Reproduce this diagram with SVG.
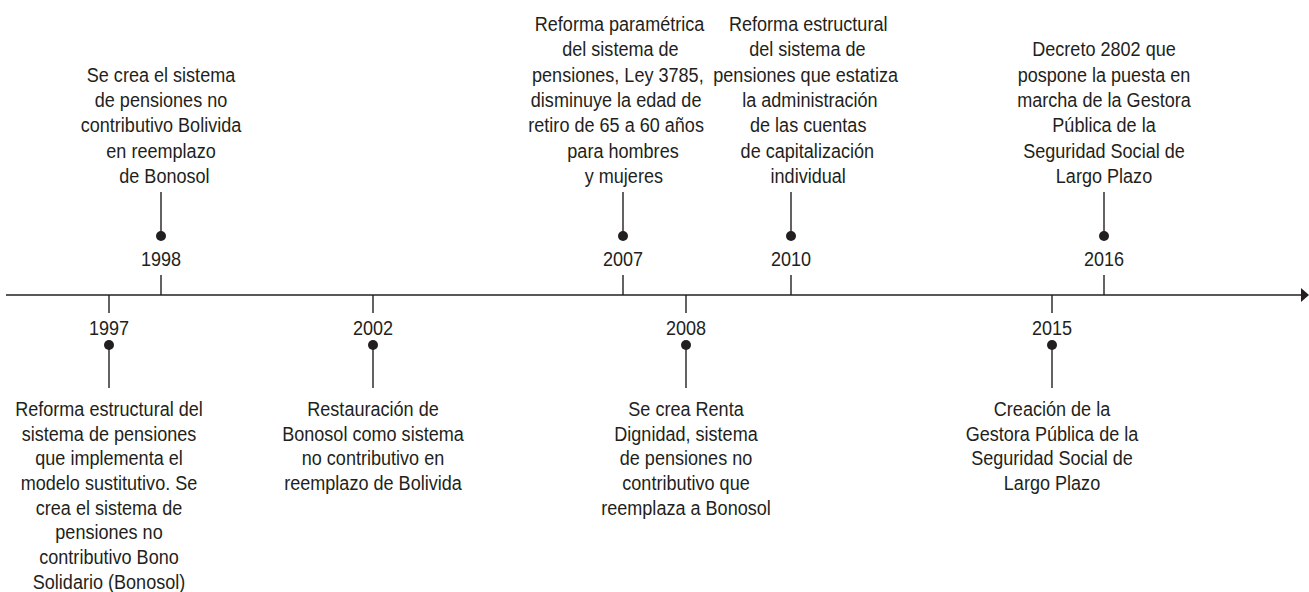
<svg xmlns="http://www.w3.org/2000/svg" width="1309" height="592" viewBox="0 0 1309 592">
<style>
  .t { font-family: "Liberation Sans", Arial, sans-serif; font-size: 21px; fill: #231f20; text-anchor: middle; }
  .ln { stroke: #231f20; stroke-width: 1.4; fill: none; }
  .dot { fill: #231f20; }
</style>
<defs>
  <marker id="arrow" markerUnits="userSpaceOnUse" markerWidth="8" markerHeight="14" viewBox="0 0 8 14" refX="0" refY="7" orient="auto">
    <path d="M0,0 L8,7 L0,14 z" fill="#231f20"/>
  </marker>
</defs>

<g id="connectors">
  <line class="ln" x1="6" y1="295" x2="1301" y2="295" marker-end="url(#arrow)"/>
  <line class="ln" x1="161" y1="275" x2="161" y2="295"/>
  <line class="ln" x1="161" y1="192" x2="161" y2="236"/>
  <line class="ln" x1="623" y1="275" x2="623" y2="295"/>
  <line class="ln" x1="623" y1="192" x2="623" y2="236"/>
  <line class="ln" x1="791" y1="275" x2="791" y2="295"/>
  <line class="ln" x1="791" y1="192" x2="791" y2="236"/>
  <line class="ln" x1="1104" y1="275" x2="1104" y2="295"/>
  <line class="ln" x1="1104" y1="192" x2="1104" y2="236"/>
  <line class="ln" x1="109" y1="295" x2="109" y2="313"/>
  <line class="ln" x1="109" y1="345" x2="109" y2="388"/>
  <line class="ln" x1="373" y1="295" x2="373" y2="313"/>
  <line class="ln" x1="373" y1="345" x2="373" y2="388"/>
  <line class="ln" x1="686" y1="295" x2="686" y2="313"/>
  <line class="ln" x1="686" y1="345" x2="686" y2="388"/>
  <line class="ln" x1="1052" y1="295" x2="1052" y2="313"/>
  <line class="ln" x1="1052" y1="345" x2="1052" y2="388"/>
</g>

<g id="n1997" transform="translate(109,0)">
  <circle class="dot" cx="0" cy="345" r="5"/>
  <g transform="scale(0.86,1)">
    <text class="t" x="0" y="335">1997</text>
    <text class="t" x="0" y="416">Reforma estructural del</text>
    <text class="t" x="0" y="440.7">sistema de pensiones</text>
    <text class="t" x="0" y="465.4">que implementa el</text>
    <text class="t" x="0" y="490.1">modelo sustitutivo. Se</text>
    <text class="t" x="0" y="514.8">crea el sistema de</text>
    <text class="t" x="0" y="539.5">pensiones no</text>
    <text class="t" x="0" y="564.2">contributivo Bono</text>
    <text class="t" x="0" y="588.9">Solidario (Bonosol)</text>
  </g>
</g>

<g id="n1998" transform="translate(161,0)">
  <circle class="dot" cx="0" cy="236" r="5"/>
  <g transform="scale(0.86,1)">
    <text class="t" x="0" y="266.5">1998</text>
    <text class="t" x="0" y="81.8">Se crea el sistema</text>
    <text class="t" x="0" y="107.1">de pensiones no</text>
    <text class="t" x="0" y="132.4">contributivo Bolivida</text>
    <text class="t" x="0" y="157.7">en reemplazo</text>
    <text class="t" x="4" y="183">de Bonosol</text>
  </g>
</g>

<g id="n2002" transform="translate(373,0)">
  <circle class="dot" cx="0" cy="345" r="5"/>
  <g transform="scale(0.86,1)">
    <text class="t" x="0" y="335">2002</text>
    <text class="t" x="0" y="416">Restauración de</text>
    <text class="t" x="0" y="440.7">Bonosol como sistema</text>
    <text class="t" x="0" y="465.4">no contributivo en</text>
    <text class="t" x="0" y="490.1">reemplazo de Bolivida</text>
  </g>
</g>

<g id="n2007" transform="translate(623,0)">
  <circle class="dot" cx="0" cy="236" r="5"/>
  <g transform="scale(0.86,1)">
    <text class="t" x="0" y="266.5">2007</text>
    <text class="t" x="-4" y="31.2">Reforma paramétrica</text>
    <text class="t" x="-3" y="56.5">del sistema de</text>
    <text class="t" x="-6" y="81.8">pensiones, Ley 3785,</text>
    <text class="t" x="-8" y="107.1">disminuye la edad de</text>
    <text class="t" x="-8" y="132.4">retiro de 65 a 60 años</text>
    <text class="t" x="0" y="157.7">para hombres</text>
    <text class="t" x="1" y="183">y mujeres</text>
  </g>
</g>

<g id="n2008" transform="translate(686,0)">
  <circle class="dot" cx="0" cy="345" r="5"/>
  <g transform="scale(0.86,1)">
    <text class="t" x="0" y="335">2008</text>
    <text class="t" x="0" y="416">Se crea Renta</text>
    <text class="t" x="0" y="440.7">Dignidad, sistema</text>
    <text class="t" x="0" y="465.4">de pensiones no</text>
    <text class="t" x="0" y="490.1">contributivo que</text>
    <text class="t" x="0" y="514.8">reemplaza a Bonosol</text>
  </g>
</g>

<g id="n2010" transform="translate(791,0)">
  <circle class="dot" cx="0" cy="236" r="5"/>
  <g transform="scale(0.86,1)">
    <text class="t" x="0" y="266.5">2010</text>
    <text class="t" x="20" y="31.2">Reforma estructural</text>
    <text class="t" x="19" y="56.5">del sistema de</text>
    <text class="t" x="17" y="81.8">pensiones que estatiza</text>
    <text class="t" x="22" y="107.1">la administración</text>
    <text class="t" x="20" y="132.4">de las cuentas</text>
    <text class="t" x="19" y="157.7">de capitalización</text>
    <text class="t" x="20" y="183">individual</text>
  </g>
</g>

<g id="n2015" transform="translate(1052,0)">
  <circle class="dot" cx="0" cy="345" r="5"/>
  <g transform="scale(0.86,1)">
    <text class="t" x="0" y="335">2015</text>
    <text class="t" x="0" y="416">Creación de la</text>
    <text class="t" x="0" y="440.7">Gestora Pública de la</text>
    <text class="t" x="0" y="465.4">Seguridad Social de</text>
    <text class="t" x="0" y="490.1">Largo Plazo</text>
  </g>
</g>

<g id="n2016" transform="translate(1104,0)">
  <circle class="dot" cx="0" cy="236" r="5"/>
  <g transform="scale(0.86,1)">
    <text class="t" x="0" y="266.5">2016</text>
    <text class="t" x="0" y="56.5">Decreto 2802 que</text>
    <text class="t" x="0" y="81.8">pospone la puesta en</text>
    <text class="t" x="0" y="107.1">marcha de la Gestora</text>
    <text class="t" x="0" y="132.4">Pública de la</text>
    <text class="t" x="0" y="157.7">Seguridad Social de</text>
    <text class="t" x="0" y="183">Largo Plazo</text>
  </g>
</g>
</svg>
